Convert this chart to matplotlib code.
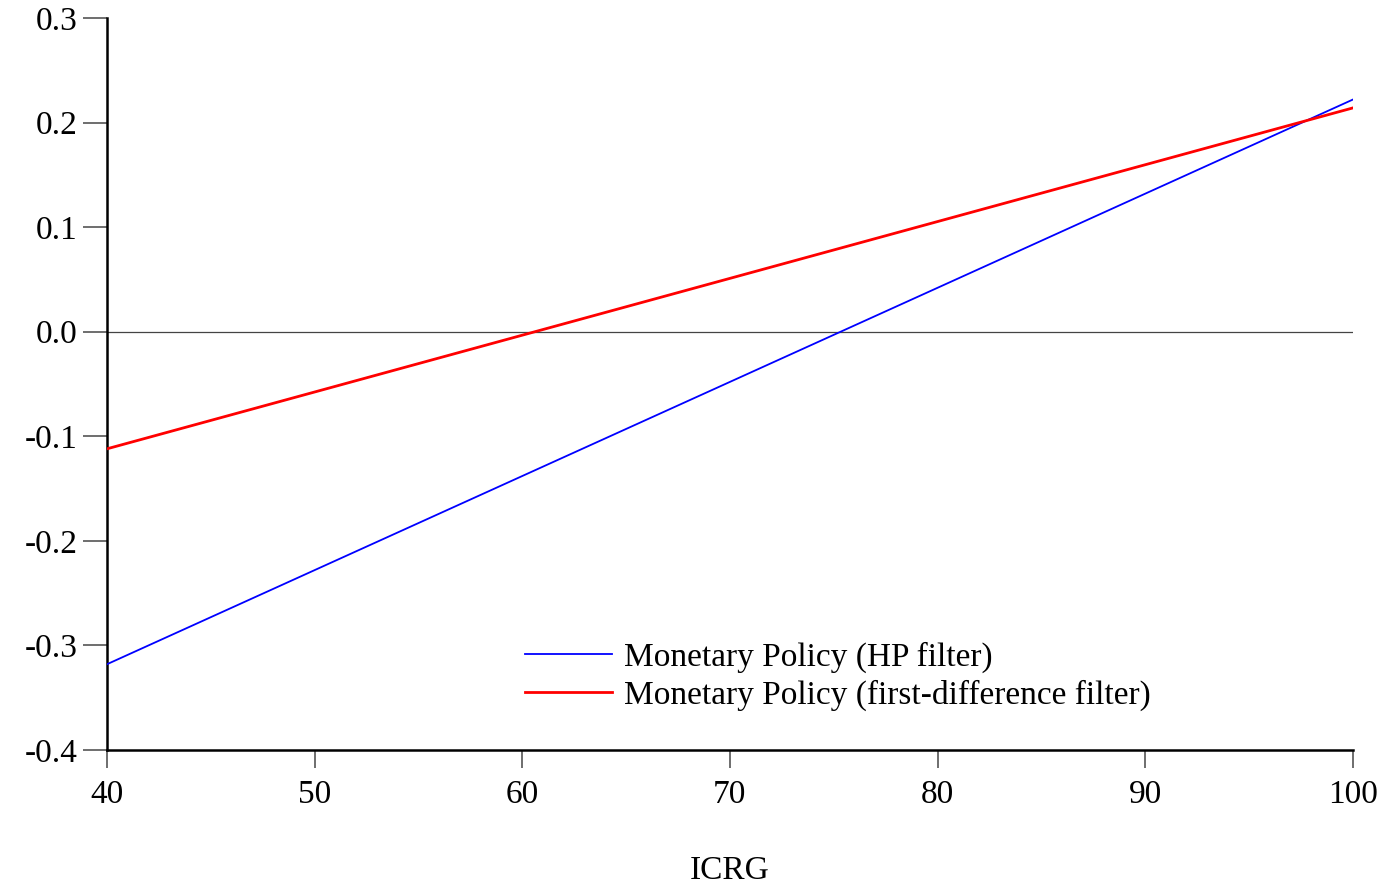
import numpy as np
import matplotlib.pyplot as plt

# ===============================
# DADOS
# ===============================
icrg = [40, 100]
hp_filter = [-0.318, 0.222]
fd_filter = [-0.112, 0.214]
x_ticks = [40, 50, 60, 70, 80, 90, 100]
y_ticks = [-0.4, -0.3, -0.2, -0.1, 0.0, 0.1, 0.2, 0.3]

plt.rcParams.update({
    'font.family': 'Liberation Serif',
    'font.size': 24,
})

fig = plt.figure(figsize=(13.89, 8.86), dpi=100)
ax = fig.add_axes([0.077, 0.1535, 0.897, 0.8262])

ax.axhline(0, color='#444444', linewidth=0.9, zorder=1)
ax.plot(icrg, hp_filter, color='#0000ff', linewidth=1.3,
        label='Monetary Policy (HP filter)', zorder=3)
ax.plot(icrg, fd_filter, color='#ff0000', linewidth=2.0,
        label='Monetary Policy (first-difference filter)', zorder=3)

ax.set_xlim(40, 100)
ax.set_ylim(-0.4, 0.3)
ax.set_xticks(x_ticks)
ax.set_yticks(y_ticks)
ax.set_yticklabels([f'{v:.1f}' for v in y_ticks])

for s in ['top', 'right']:
    ax.spines[s].set_visible(False)
for s in ['left', 'bottom']:
    ax.spines[s].set_linewidth(1.8)
ax.tick_params(axis='both', direction='out', width=1.2,
               color='#555555', labelsize=24)
ax.tick_params(axis='x', length=13, pad=8)
ax.tick_params(axis='y', length=17, pad=4)

ax.set_xlabel('ICRG', fontsize=24, labelpad=33)

leg = ax.legend(loc='center left', bbox_to_anchor=(525 / 1389, 1 - 676 / 886),
                bbox_transform=fig.transFigure, borderaxespad=0, borderpad=0,
                frameon=False, handlelength=2.6, handletextpad=0.36,
                labelspacing=0.2, fontsize=24)

fig.savefig('out.png', dpi=100)
